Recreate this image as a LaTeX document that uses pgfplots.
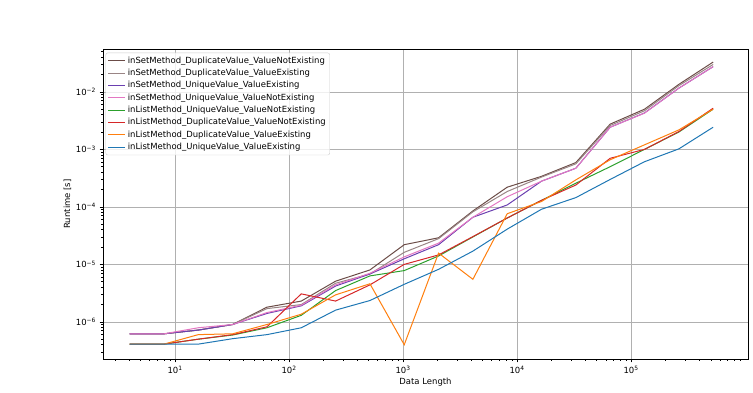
\documentclass[border=0pt]{standalone}
\usepackage{pgfplots}
\pgfplotsset{compat=1.18}
\usepackage{fontspec}
\setmainfont{DejaVu Sans}
\definecolor{cA}{HTML}{6B4C47}
\definecolor{cB}{HTML}{9A8585}
\definecolor{cC}{HTML}{6A3FB0}
\definecolor{cD}{HTML}{E377C2}
\definecolor{cE}{HTML}{2CA02C}
\definecolor{cF}{HTML}{D62728}
\definecolor{cG}{HTML}{FF7F0E}
\definecolor{cH}{HTML}{1F77B4}
\begin{document}
\begin{tikzpicture}
\useasboundingbox (0,0) rectangle (753bp,393bp);
\begin{axis}[
  at={(103bp,34bp)}, anchor=south west,
  scale only axis, width=645bp, height=310bp,
  xmode=log, ymode=log,
  xmin=2.335, xmax=1.06e6, ymin=2.26e-7, ymax=5.57e-2,
  xtick={10,100,1000,10000,100000},
  xticklabels={10\textsuperscript{1},10\textsuperscript{2},10\textsuperscript{3},10\textsuperscript{4},10\textsuperscript{5}},
  ytick={1e-6,1e-5,1e-4,1e-3,1e-2},
  yticklabels={10\textsuperscript{−6},10\textsuperscript{−5},10\textsuperscript{−4},10\textsuperscript{−3},10\textsuperscript{−2}},
  minor xtick={3,4,5,6,7,8,9,20,30,40,50,60,70,80,90,200,300,400,500,600,700,800,900,2000,3000,4000,5000,6000,7000,8000,9000,20000,30000,40000,50000,60000,70000,80000,90000,200000,300000,400000,500000,600000,700000,800000,900000},
  minor ytick={3e-7,4e-7,5e-7,6e-7,7e-7,8e-7,9e-7,2e-6,3e-6,4e-6,5e-6,6e-6,7e-6,8e-6,9e-6,2e-5,3e-5,4e-5,5e-5,6e-5,7e-5,8e-5,9e-5,2e-4,3e-4,4e-4,5e-4,6e-4,7e-4,8e-4,9e-4,2e-3,3e-3,4e-3,5e-3,6e-3,7e-3,8e-3,9e-3,2e-2,3e-2,4e-2,5e-2},
  tick align=outside, tick pos=left,
  major tick length=3.5bp, minor tick length=2bp,
  every tick/.style={black, line width=0.6bp},
  axis line style={black, line width=0.7bp},
  xmajorgrids, ymajorgrids, major grid style={color=black!31, line width=0.6bp},
  tick label style={font=\fontsize{8.5}{10}\selectfont},
  label style={font=\fontsize{8.5}{10}\selectfont},
  xlabel={Data Length}, ylabel={Runtime [s]},
  xlabel style={yshift=2bp},
  ylabel style={yshift=-2bp},
  legend cell align=left,
  legend style={at={(0.004,0.988)}, anchor=north west,
    font=\fontsize{8.5}{10}\selectfont,
    draw=black!20, rounded corners=2bp, fill=white, fill opacity=0.8, text opacity=1,
    row sep=0.4bp, inner sep=2bp},
  every axis plot/.append style={line width=1bp, mark=none},
]
\addplot[cA] coordinates {(4,6.2e-7)(8,6.2e-7)(16,7.2e-7)(32,9.0e-7)(64,1.8e-6)(128,2.3e-6)(256,5.1e-6)(512,8.0e-6)(1024,2.2e-5)(2048,2.9e-5)(4096,8.5e-5)(8192,2.2e-4)(16384,3.4e-4)(32768,5.9e-4)(65536,2.75e-3)(131072,5.0e-3)(262144,1.35e-2)(524288,3.3e-2)};
\addlegendentry{inSetMethod\_DuplicateValue\_ValueNotExisting}
\addplot[cB] coordinates {(4,6.2e-7)(8,6.2e-7)(16,7.2e-7)(32,9.0e-7)(64,1.7e-6)(128,2.0e-6)(256,4.7e-6)(512,6.8e-6)(1024,1.62e-5)(2048,2.8e-5)(4096,8.2e-5)(8192,1.85e-4)(16384,3.3e-4)(32768,5.6e-4)(65536,2.6e-3)(131072,4.7e-3)(262144,1.28e-2)(524288,3.0e-2)};
\addlegendentry{inSetMethod\_DuplicateValue\_ValueExisting}
\addplot[cC] coordinates {(4,6.2e-7)(8,6.2e-7)(16,7.2e-7)(32,9.0e-7)(64,1.4e-6)(128,1.9e-6)(256,4.2e-6)(512,6.8e-6)(1024,1.25e-5)(2048,2.2e-5)(4096,6.6e-5)(8192,1.08e-4)(16384,2.8e-4)(32768,4.7e-4)(65536,2.43e-3)(131072,4.3e-3)(262144,1.16e-2)(524288,2.75e-2)};
\addlegendentry{inSetMethod\_UniqueValue\_ValueExisting}
\addplot[cD] coordinates {(4,6.2e-7)(8,6.2e-7)(16,7.9e-7)(32,9.0e-7)(64,1.45e-6)(128,1.95e-6)(256,4.4e-6)(512,7.0e-6)(1024,1.35e-5)(2048,2.34e-5)(4096,6.6e-5)(8192,1.5e-4)(16384,2.8e-4)(32768,4.7e-4)(65536,2.43e-3)(131072,4.27e-3)(262144,1.16e-2)(524288,2.75e-2)};
\addlegendentry{inSetMethod\_UniqueValue\_ValueNotExisting}
\addplot[cE] coordinates {(4,4.1e-7)(8,4.1e-7)(16,5.0e-7)(32,5.9e-7)(64,7.9e-7)(128,1.3e-6)(256,3.5e-6)(512,6.3e-6)(1024,7.8e-6)(2048,1.4e-5)(4096,3.0e-5)(8192,6.4e-5)(16384,1.3e-4)(32768,2.58e-4)(65536,5.0e-4)(131072,1.0e-3)(262144,2.0e-3)(524288,5.0e-3)};
\addlegendentry{inListMethod\_UniqueValue\_ValueNotExisting}
\addplot[cF] coordinates {(4,4.1e-7)(8,4.1e-7)(16,5.0e-7)(32,6.0e-7)(64,8.2e-7)(128,3.07e-6)(256,2.3e-6)(512,4.4e-6)(1024,1.0e-5)(2048,1.46e-5)(4096,3.04e-5)(8192,6.4e-5)(16384,1.3e-4)(32768,2.4e-4)(65536,7.0e-4)(131072,1.0e-3)(262144,2.04e-3)(524288,5.2e-3)};
\addlegendentry{inListMethod\_DuplicateValue\_ValueNotExisting}
\addplot[cG] coordinates {(4,4.1e-7)(8,4.1e-7)(16,6.0e-7)(32,6.2e-7)(64,9.0e-7)(128,1.36e-6)(256,2.95e-6)(512,4.6e-6)(1024,4.0e-7)(2048,1.57e-5)(4096,5.5e-6)(8192,7.6e-5)(16384,1.24e-4)(32768,2.95e-4)(65536,6.6e-4)(131072,1.2e-3)(262144,2.18e-3)(524288,5.0e-3)};
\addlegendentry{inListMethod\_DuplicateValue\_ValueExisting}
\addplot[cH] coordinates {(4,4.1e-7)(8,4.1e-7)(16,4.1e-7)(32,5.1e-7)(64,6.0e-7)(128,7.9e-7)(256,1.6e-6)(512,2.35e-6)(1024,4.5e-6)(2048,8.2e-6)(4096,1.7e-5)(8192,4.1e-5)(16384,9.1e-5)(32768,1.45e-4)(65536,3.0e-4)(131072,6.1e-4)(262144,1.02e-3)(524288,2.43e-3)};
\addlegendentry{inListMethod\_UniqueValue\_ValueExisting}
\end{axis}
\end{tikzpicture}
\end{document}
